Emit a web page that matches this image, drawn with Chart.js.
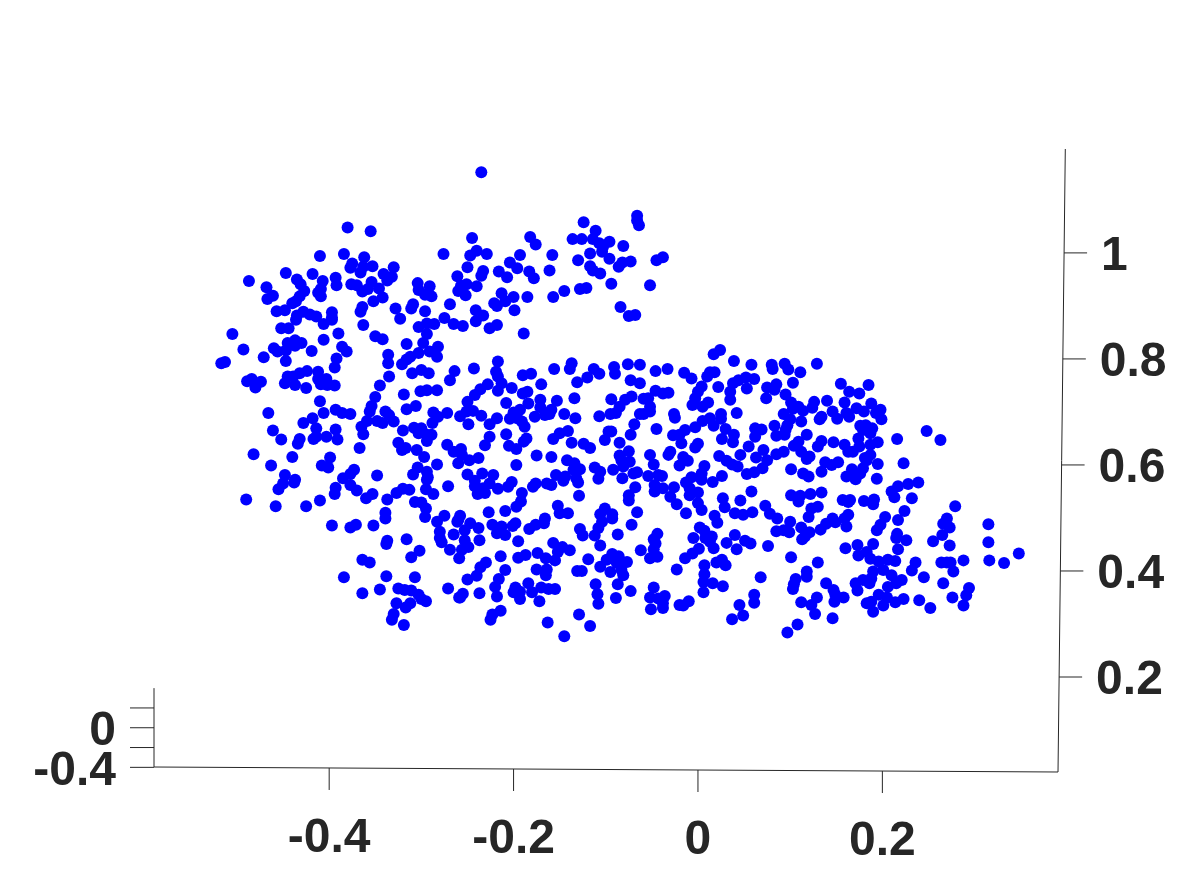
<!DOCTYPE html>
<html>
<head>
<meta charset="utf-8">
<style>
html, body { margin: 0; padding: 0; background: #fff; }
canvas { display: block; }
</style>
<script src="https://cdn.jsdelivr.net/npm/chart.js@4"></script>
</head>
<body>
<canvas id="myChart" width="1178" height="869"></canvas>
<script>
// tick labels
const xTicks = [-0.4, -0.2, 0, 0.2];
const yTicks = [0.2, 0.4, 0.6, 0.8, 1];
const zLabelled = [-0.4, 0];
const zMarks = [-0.4, -0.2, 0, 0.2];

// points, [x, y], region by region
const upperLeft = [
  [-0.380,1.048],[-0.355,1.041],[-0.410,0.994],[-0.384,0.998],[-0.362,0.992],[-0.375,0.980],[-0.377,0.972],[-0.363,0.974],[-0.353,0.975],[-0.366,0.963],
  [-0.330,0.973],[-0.341,0.960],[-0.332,0.955],[-0.337,0.948],[-0.487,0.947],[-0.447,0.962],[-0.418,0.960],[-0.435,0.950],[-0.468,0.935],[-0.407,0.947],
  [-0.393,0.953],[-0.392,0.939],[-0.431,0.941],[-0.427,0.928],[-0.409,0.932],[-0.412,0.925],[-0.409,0.918],[-0.376,0.941],[-0.370,0.939],[-0.354,0.945],
  [-0.358,0.932],[-0.364,0.927],[-0.346,0.933],[-0.342,0.916],[-0.352,0.909],[-0.304,0.943],[-0.291,0.937],[-0.303,0.930],[-0.296,0.921],[-0.289,0.918],
  [-0.461,0.919],[-0.467,0.913],[-0.432,0.918],[-0.436,0.909],[-0.440,0.905],[-0.457,0.890],[-0.448,0.892],[-0.364,0.898],[-0.366,0.889],[-0.328,0.895],
  [-0.309,0.903],[-0.311,0.895],[-0.296,0.890],[-0.397,0.888],[-0.428,0.889],[-0.435,0.882],[-0.421,0.884],[-0.414,0.880],[-0.397,0.878],[-0.323,0.876]
];
const upperMiddle = [
  [-0.235,1.152],[-0.066,1.070],[-0.066,1.061],[-0.064,1.052],[-0.124,1.058],[-0.111,1.042],[-0.136,1.026],[-0.126,1.026],[-0.114,1.026],[-0.096,1.021],
  [-0.107,1.018],[-0.103,1.011],[-0.104,1.002],[-0.081,1.013],[-0.245,1.028],[-0.182,1.030],[-0.176,1.016],[-0.276,0.998],[-0.240,1.004],[-0.247,0.995],
  [-0.229,0.998],[-0.193,0.996],[-0.158,0.996],[-0.117,0.999],[-0.130,0.986],[-0.096,0.989],[-0.038,0.992],[-0.045,0.986],[-0.073,0.984],[-0.082,0.982],
  [-0.086,0.974],[-0.204,0.982],[-0.196,0.971],[-0.250,0.973],[-0.233,0.966],[-0.216,0.965],[-0.183,0.965],[-0.161,0.967],[-0.117,0.975],[-0.114,0.967],
  [-0.106,0.961],[-0.235,0.957],[-0.261,0.956],[-0.207,0.954],[-0.178,0.952],[-0.251,0.941],[-0.257,0.938],[-0.240,0.937],[-0.094,0.942],[-0.052,0.939],
  [-0.121,0.934],[-0.128,0.932],[-0.145,0.928],[-0.260,0.928],[-0.252,0.920],[-0.213,0.924],[-0.200,0.917],[-0.185,0.917],[-0.157,0.917],[-0.221,0.905],
  [-0.209,0.909],[-0.218,0.900],[-0.269,0.903],[-0.084,0.898],[-0.241,0.892],[-0.199,0.892],[-0.075,0.881],[-0.068,0.883],[-0.233,0.882],[-0.275,0.877],
  [-0.241,0.871],[-0.286,0.866],[-0.265,0.866],[-0.255,0.862],[-0.218,0.864],[-0.226,0.858],[-0.189,0.848]
];
const midLeft = [
  [-0.436,0.874],[-0.406,0.866],[-0.397,0.874],[-0.363,0.864],[-0.452,0.858],[-0.444,0.858],[-0.505,0.847],[-0.390,0.848],[-0.350,0.843],[-0.342,0.837],
  [-0.406,0.836],[-0.437,0.835],[-0.445,0.830],[-0.430,0.830],[-0.437,0.825],[-0.316,0.828],[-0.303,0.860],[-0.294,0.847],[-0.294,0.867],[-0.493,0.818],
  [-0.460,0.820],[-0.456,0.814],[-0.447,0.816],[-0.419,0.815],[-0.386,0.823],[-0.381,0.814],[-0.298,0.830],[-0.303,0.811],[-0.312,0.804],[-0.291,0.814],
  [-0.282,0.823],[-0.283,0.804],[-0.336,0.808],[-0.336,0.792],[-0.471,0.803],[-0.447,0.796],[-0.392,0.801],[-0.394,0.784],[-0.321,0.790],[-0.316,0.799],
  [-0.513,0.794],[-0.517,0.792],[-0.424,0.777],[-0.412,0.776],[-0.432,0.773],[-0.439,0.767],[-0.445,0.767],[-0.310,0.773],[-0.300,0.779],[-0.292,0.773],
  [-0.335,0.767],[-0.484,0.762],[-0.489,0.758],[-0.474,0.757],[-0.480,0.746],[-0.448,0.754],[-0.437,0.751],[-0.412,0.762],[-0.403,0.762],[-0.409,0.752],
  [-0.402,0.751],[-0.394,0.750],[-0.345,0.750],[-0.425,0.745],[-0.319,0.733],[-0.301,0.739],[-0.294,0.741],[-0.283,0.741],[-0.350,0.728],[-0.410,0.720],
  [-0.354,0.711],[-0.356,0.701],[-0.306,0.711],[-0.316,0.705],[-0.393,0.704],[-0.386,0.698],[-0.377,0.696],[-0.466,0.698],[-0.406,0.698],[-0.339,0.701],
  [-0.335,0.694],[-0.287,0.699],[-0.418,0.688],[-0.428,0.679],[-0.359,0.683],[-0.348,0.683],[-0.342,0.679],[-0.330,0.682],[-0.282,0.691],[-0.288,0.679],
  [-0.365,0.672],[-0.461,0.665],[-0.414,0.669],[-0.393,0.667],[-0.320,0.665],[-0.308,0.670],[-0.300,0.669],[-0.303,0.660],[-0.294,0.657],[-0.289,0.657],
  [-0.363,0.658],[-0.414,0.653],[-0.403,0.653],[-0.417,0.649],[-0.391,0.648],[-0.452,0.648],[-0.432,0.649],[-0.434,0.640],[-0.294,0.645],[-0.325,0.642],
  [-0.367,0.632],[-0.317,0.632],[-0.321,0.628],[-0.305,0.628],[-0.482,0.620],[-0.297,0.615],[-0.440,0.615],[-0.399,0.614],[-0.463,0.599],[-0.408,0.599],
  [-0.401,0.595],[-0.283,0.601],[-0.304,0.595],[-0.373,0.591],[-0.294,0.587],[-0.309,0.582],[-0.448,0.581],[-0.377,0.583],[-0.385,0.575],[-0.348,0.580],
  [-0.293,0.577],[-0.437,0.572]
];
const lowerLeft = [
  [-0.377,0.562],[-0.294,0.572],[-0.438,0.567],[-0.450,0.565],[-0.455,0.554],[-0.393,0.557],[-0.394,0.545],[-0.370,0.552],[-0.353,0.545],[-0.360,0.537],
  [-0.327,0.547],[-0.320,0.555],[-0.313,0.553],[-0.295,0.554],[-0.287,0.545],[-0.271,0.560],[-0.337,0.535],[-0.490,0.535],[-0.410,0.533],[-0.458,0.522],
  [-0.425,0.522],[-0.307,0.530],[-0.300,0.529],[-0.295,0.518],[-0.339,0.510],[-0.339,0.499],[-0.296,0.502],[-0.275,0.504],[-0.283,0.493],[-0.260,0.496],
  [-0.397,0.486],[-0.377,0.482],[-0.371,0.487],[-0.352,0.486],[-0.280,0.474],[-0.265,0.469],[-0.280,0.462],[-0.278,0.454],[-0.337,0.457],[-0.338,0.451],
  [-0.316,0.460],[-0.269,0.440],[-0.302,0.438],[-0.311,0.426],[-0.259,0.424],[-0.364,0.421],[-0.356,0.416],[-0.384,0.388],[-0.338,0.390],[-0.307,0.388],
  [-0.345,0.365],[-0.364,0.358],[-0.271,0.367],[-0.325,0.367],[-0.318,0.364],[-0.311,0.363],[-0.303,0.355],[-0.295,0.343],[-0.300,0.347],[-0.259,0.350],
  [-0.327,0.339],[-0.312,0.339],[-0.317,0.331],[-0.330,0.319],[-0.332,0.308],[-0.319,0.298]
];
const midCentre = [
  [-0.217,0.795],[-0.137,0.792],[-0.139,0.781],[-0.156,0.781],[-0.243,0.782],[-0.264,0.777],[-0.269,0.760],[-0.219,0.776],[-0.217,0.767],[-0.190,0.769],
  [-0.181,0.772],[-0.113,0.781],[-0.107,0.772],[-0.120,0.765],[-0.091,0.785],[-0.090,0.772],[-0.076,0.790],[-0.063,0.789],[-0.046,0.777],[-0.073,0.760],
  [-0.063,0.754],[-0.131,0.756],[-0.170,0.752],[-0.213,0.754],[-0.202,0.745],[-0.228,0.752],[-0.236,0.743],[-0.217,0.740],[-0.242,0.732],[-0.190,0.735],
  [-0.185,0.738],[-0.184,0.716],[-0.171,0.723],[-0.153,0.721],[-0.134,0.726],[-0.046,0.740],[-0.072,0.729],[-0.079,0.723],[-0.094,0.724],[-0.059,0.725],
  [-0.054,0.726],[-0.052,0.710],[-0.250,0.719],[-0.208,0.717],[-0.085,0.710],[-0.059,0.696],[-0.063,0.696],[-0.052,0.701],[-0.244,0.702],[-0.251,0.701],
  [-0.272,0.698],[-0.258,0.692],[-0.235,0.693],[-0.193,0.704],[-0.200,0.699],[-0.204,0.687],[-0.196,0.688],[-0.171,0.709],[-0.177,0.691],[-0.166,0.694],
  [-0.159,0.704],[-0.161,0.696],[-0.145,0.696],[-0.133,0.688],[-0.107,0.692],[-0.095,0.696],[-0.089,0.698],[-0.249,0.677],[-0.218,0.688],[-0.226,0.677],
  [-0.191,0.682],[-0.188,0.672],[-0.069,0.677],[-0.045,0.668],[-0.097,0.663],[-0.094,0.663],[-0.141,0.664],[-0.150,0.660],[-0.157,0.649],[-0.101,0.647],
  [-0.073,0.657],[-0.208,0.658],[-0.226,0.653],[-0.186,0.650],[-0.189,0.644],[-0.231,0.637],[-0.137,0.642],[-0.124,0.640],[-0.117,0.632],[-0.205,0.636],
  [-0.197,0.630],[-0.085,0.642],[-0.272,0.638],[-0.265,0.625],[-0.257,0.630],[-0.256,0.619],[-0.248,0.609],[-0.238,0.613],[-0.260,0.603],[-0.075,0.626],
  [-0.085,0.618],[-0.083,0.609],[-0.074,0.606],[-0.052,0.619],[-0.048,0.601],[-0.175,0.618],[-0.159,0.615],[-0.142,0.609],[-0.134,0.603],[-0.197,0.600],
  [-0.112,0.595],[-0.106,0.587],[-0.092,0.591],[-0.081,0.597],[-0.128,0.592],[-0.135,0.591],[-0.070,0.584],[-0.066,0.586],[-0.082,0.575],[-0.054,0.579],
  [-0.043,0.581],[-0.250,0.582],[-0.234,0.584],[-0.222,0.581],[-0.242,0.570],[-0.154,0.581],[-0.144,0.578],[-0.132,0.575],[-0.146,0.570],[-0.108,0.574],
  [-0.202,0.568],[-0.206,0.559],[-0.164,0.565],[-0.159,0.562],[-0.176,0.565],[-0.179,0.559],[-0.130,0.567],[-0.226,0.565],[-0.217,0.555],[-0.233,0.556],
  [-0.242,0.560],[-0.239,0.545],[-0.231,0.547],[-0.191,0.547],[-0.129,0.542],[-0.068,0.558],[-0.075,0.543],[-0.047,0.562],[-0.047,0.550]
];
const lowerCentre = [
  [-0.075,0.533],[-0.030,0.540],[-0.023,0.526],[-0.192,0.531],[-0.197,0.521],[-0.152,0.523],[-0.150,0.509],[-0.141,0.509],[-0.227,0.511],[-0.209,0.513],
  [-0.101,0.518],[-0.106,0.507],[-0.093,0.507],[-0.093,0.499],[-0.066,0.511],[-0.258,0.504],[-0.261,0.493],[-0.247,0.490],[-0.238,0.481],[-0.253,0.477],
  [-0.223,0.487],[-0.213,0.484],[-0.198,0.490],[-0.201,0.485],[-0.218,0.471],[-0.209,0.468],[-0.166,0.499],[-0.167,0.490],[-0.176,0.487],[-0.183,0.479],
  [-0.104,0.493],[-0.108,0.481],[-0.112,0.467],[-0.128,0.479],[-0.125,0.467],[-0.087,0.469],[-0.072,0.487],[-0.044,0.470],[-0.048,0.460],[-0.237,0.458],
  [-0.253,0.458],[-0.195,0.456],[-0.157,0.453],[-0.106,0.448],[-0.046,0.452],[-0.249,0.445],[-0.256,0.440],[-0.147,0.445],[-0.139,0.439],[-0.152,0.436],
  [-0.062,0.439],[-0.048,0.441],[-0.174,0.434],[-0.187,0.430],[-0.195,0.425],[-0.165,0.424],[-0.155,0.420],[-0.214,0.428],[-0.119,0.422],[-0.093,0.432],
  [-0.086,0.428],[-0.099,0.421],[-0.077,0.417],[-0.052,0.424],[-0.044,0.427],[-0.230,0.416],[-0.236,0.407],[-0.106,0.408],[-0.088,0.415],[-0.209,0.402],
  [-0.175,0.403],[-0.164,0.403],[-0.131,0.400],[-0.126,0.400],[-0.095,0.398],[-0.083,0.402],[-0.023,0.403],[-0.240,0.391],[-0.165,0.392],[-0.081,0.392],
  [-0.250,0.384],[-0.216,0.385],[-0.184,0.377],[-0.087,0.375],[-0.111,0.375],[-0.220,0.370],[-0.198,0.369],[-0.170,0.369],[-0.162,0.366],[-0.155,0.366],
  [-0.048,0.369],[-0.193,0.361],[-0.200,0.360],[-0.180,0.360],[-0.237,0.358],[-0.255,0.357],[-0.258,0.350],[-0.218,0.352],[-0.109,0.356],[-0.073,0.362],
  [-0.193,0.347],[-0.172,0.343],[-0.089,0.349],[-0.052,0.350],[-0.036,0.353],[-0.043,0.348],[-0.038,0.339],[-0.108,0.338],[-0.038,0.330],[-0.051,0.328],
  [-0.020,0.336],[-0.214,0.325],[-0.223,0.318],[-0.225,0.308],[-0.129,0.318],[-0.163,0.303],[-0.117,0.296],[-0.145,0.277]
];
const midRight = [
  [0.024,0.817],[0.017,0.809],[0.039,0.796],[0.058,0.789],[0.080,0.789],[0.081,0.781],[0.094,0.791],[0.098,0.780],[0.111,0.775],[0.129,0.791],
  [-0.033,0.781],[-0.015,0.774],[-0.007,0.763],[0.018,0.775],[0.013,0.775],[0.010,0.767],[0.061,0.762],[0.052,0.765],[0.044,0.760],[0.038,0.754],
  [0.103,0.755],[0.022,0.747],[0.004,0.748],[0.000,0.738],[0.085,0.752],[0.075,0.746],[0.053,0.744],[0.035,0.738],[-0.038,0.735],[-0.032,0.736],
  [0.155,0.753],[0.185,0.751],[0.164,0.738],[0.175,0.735],[0.083,0.742],[0.074,0.726],[0.095,0.733],[0.035,0.723],[-0.003,0.726],[0.101,0.718],
  [0.140,0.721],[0.126,0.719],[0.011,0.718],[-0.006,0.713],[0.005,0.710],[0.159,0.718],[0.188,0.716],[0.109,0.710],[0.103,0.706],[0.124,0.708],
  [0.114,0.702],[0.172,0.707],[0.198,0.704],[0.146,0.701],[0.161,0.698],[0.180,0.701],[0.193,0.698],[-0.026,0.696],[-0.025,0.689],[0.042,0.698],
  [0.025,0.696],[0.093,0.696],[0.134,0.691],[0.132,0.686],[0.151,0.687],[0.164,0.691],[0.199,0.686],[0.025,0.687],[0.013,0.688],[0.005,0.683],
  [0.100,0.686],[0.112,0.682],[0.017,0.674],[-0.003,0.671],[-0.014,0.666],[0.083,0.674],[0.097,0.675],[0.176,0.674],[0.182,0.675],[0.189,0.669],
  [0.030,0.668],[0.069,0.667],[0.062,0.669],[0.095,0.666],[0.179,0.666],[0.187,0.660],[-0.027,0.656],[-0.020,0.657],[0.039,0.657],[0.062,0.653],
  [0.085,0.655],[0.094,0.657],[0.118,0.657],[0.248,0.664],[-0.018,0.641],[0.026,0.649],[0.038,0.643],[0.216,0.649],[0.174,0.650],[0.134,0.645],
  [0.147,0.643],[0.109,0.644],[0.104,0.636],[0.055,0.635],[0.000,0.640],[-0.003,0.633],[0.195,0.643],[0.187,0.638],[0.159,0.638],[0.175,0.635],
  [0.130,0.635],[0.163,0.625],[0.168,0.625],[0.071,0.628],[0.112,0.625],[0.093,0.625],[0.085,0.620],[0.063,0.614],[0.046,0.619],[0.023,0.617],
  [-0.030,0.625],[-0.032,0.619],[0.187,0.619],[0.181,0.613],[0.121,0.616],[0.118,0.611],[-0.016,0.615],[-0.011,0.608],[-0.020,0.599],[0.031,0.608],
  [0.075,0.609],[0.070,0.594],[0.037,0.601],[0.152,0.605],[0.138,0.605],[0.145,0.600],[0.183,0.609],[0.223,0.603],[0.007,0.598],[0.043,0.597],
  [0.195,0.602],[0.179,0.594],[0.167,0.592],[0.134,0.587],[0.053,0.583],[0.061,0.586],[0.101,0.592],[0.114,0.584],[0.004,0.584],[-0.039,0.579],
  [-0.007,0.577],[0.026,0.579],[0.194,0.574],[0.176,0.584],[0.161,0.578],[0.171,0.573],[0.120,0.578],[0.004,0.572],[0.016,0.568],[-0.013,0.567],
  [-0.026,0.558],[-0.038,0.556],[-0.009,0.556],[0.000,0.548],[0.058,0.550],[0.027,0.537],[0.046,0.533],[0.101,0.543],[0.111,0.542],[0.122,0.545],
  [0.134,0.548],[0.157,0.534],[0.165,0.534],[0.191,0.535],[0.239,0.567],[0.228,0.564],[0.217,0.560],[0.210,0.550],[0.232,0.537],[0.213,0.539],
  [-0.009,0.543]
];
const lowerRight = [
  [-0.013,0.509],[0.000,0.528],[0.004,0.515],[0.029,0.520],[0.018,0.504],[0.021,0.491],[0.040,0.509],[0.049,0.506],[0.059,0.511],[0.073,0.523],
  [0.078,0.508],[0.086,0.499],[0.109,0.531],[0.163,0.530],[0.180,0.532],[0.190,0.526],[0.130,0.521],[0.123,0.518],[0.120,0.502],[0.163,0.506],
  [0.159,0.499],[0.161,0.484],[0.146,0.499],[0.149,0.492],[0.139,0.489],[0.133,0.478],[0.203,0.502],[0.198,0.487],[0.194,0.477],[0.217,0.496],
  [0.002,0.482],[0.007,0.476],[-0.005,0.462],[0.015,0.465],[0.008,0.462],[0.013,0.455],[0.017,0.443],[0.001,0.442],[-0.006,0.433],[-0.014,0.424],
  [0.040,0.468],[0.031,0.453],[0.051,0.457],[0.057,0.452],[0.042,0.441],[0.076,0.447],[0.100,0.493],[0.112,0.482],[0.085,0.475],[0.093,0.477],
  [0.099,0.473],[0.121,0.473],[0.116,0.465],[0.113,0.460],[0.215,0.462],[0.190,0.451],[0.173,0.449],[0.174,0.429],[0.160,0.443],[0.183,0.436],
  [0.187,0.423],[0.217,0.441],[0.196,0.418],[0.206,0.421],[0.214,0.419],[0.101,0.426],[0.130,0.416],[0.007,0.411],[0.026,0.421],[0.020,0.416],
  [0.030,0.411],[0.007,0.394],[0.006,0.379],[0.016,0.377],[0.027,0.371],[0.068,0.388],[0.118,0.399],[0.118,0.389],[0.106,0.385],[0.104,0.375],
  [0.103,0.366],[0.006,0.360],[0.139,0.377],[0.147,0.364],[0.149,0.355],[0.158,0.350],[0.148,0.342],[0.129,0.350],[0.123,0.336],[0.112,0.341],
  [0.127,0.319],[0.146,0.311],[0.108,0.299],[0.097,0.284],[0.061,0.355],[0.061,0.340],[0.045,0.336],[0.049,0.316],[0.037,0.309],[-0.010,0.343],
  [-0.016,0.335],[0.201,0.402],[0.190,0.399],[0.210,0.392],[0.188,0.386],[0.179,0.383],[0.171,0.377],[0.186,0.377],[0.173,0.363],[0.206,0.370],
  [0.215,0.377],[0.183,0.339],[0.196,0.355],[0.205,0.350],[0.188,0.342],[0.201,0.335],[0.190,0.323],[0.214,0.341]
];
const rightEdge = [
  [0.263,0.647],[0.279,0.522],[0.224,0.513],[0.270,0.499],[0.266,0.489],[0.273,0.482],[0.315,0.488],[0.265,0.468],[0.216,0.470],[0.226,0.458],
  [0.255,0.456],[0.273,0.448],[0.315,0.454],[0.348,0.433],[0.316,0.420],[0.332,0.415],[0.288,0.420],[0.264,0.416],[0.270,0.416],[0.274,0.416],
  [0.277,0.399],[0.236,0.416],[0.232,0.401],[0.245,0.388],[0.266,0.377],[0.221,0.383],[0.294,0.368],[0.291,0.354],[0.276,0.350],[0.288,0.335],
  [0.240,0.345],[0.252,0.330],[0.223,0.347]
];

const allPoints = [].concat(upperLeft, upperMiddle, midLeft, lowerLeft, midCentre, lowerCentre, midRight, lowerRight, rightEdge);

const ink = "#262626";
const labelFont = { family: "'Liberation Sans', Arial, sans-serif", size: 48, weight: "bold" };

// the 3D box is slightly tilted, so the axes lean a few pixels
const xAxisDrop = 5;
const yAxisLean = 7.3;

function tickText(v) {
  return String(Math.round(v * 10) / 10);
}

function setTicks(list) {
  return (scale) => {
    scale.ticks = list.map((v) => ({ value: v }));
  };
}

const tiltedAxes = {
  id: "tiltedAxes",
  afterLayout(chart) {
    const { x, y, z } = chart.scales;
    const a = chart.chartArea;
    x.getLabelItems().forEach((item, i) => {
      const px = x.getPixelForValue(xTicks[i]);
      item.options.translation[1] += ((px - a.right) / (a.right - a.left)) * xAxisDrop;
    });
    y.getLabelItems().forEach((item, i) => {
      const py = y.getPixelForValue(yTicks[i]);
      item.options.translation[0] += ((a.bottom - py) / (a.bottom - a.top)) * yAxisLean;
      item.options.translation[1] += 4;
    });
    z.getLabelItems().forEach((item) => {
      item.options.translation[1] += 4;
    });
  },
  beforeDatasetsDraw(chart) {
    const { ctx, chartArea: a, scales } = chart;
    const { x, y, z } = scales;
    const line = (x1, y1, x2, y2) => {
      ctx.beginPath();
      ctx.moveTo(x1, y1);
      ctx.lineTo(x2, y2);
      ctx.stroke();
    };
    const yAxisX = (py) => a.right + ((a.bottom - py) / (a.bottom - a.top)) * yAxisLean;
    const xAxisY = (px) => a.bottom + ((px - a.right) / (a.right - a.left)) * xAxisDrop;
    ctx.save();
    ctx.strokeStyle = ink;
    ctx.lineWidth = 1;
    line(a.left, a.bottom - xAxisDrop, a.right, a.bottom);
    line(a.right, a.bottom, a.right + yAxisLean, a.top);
    line(a.left, z.getPixelForValue(0.4), a.left, a.bottom - xAxisDrop);
    xTicks.forEach((v) => {
      const px = x.getPixelForValue(v);
      line(px, xAxisY(px), px, xAxisY(px) + 22);
    });
    yTicks.forEach((v) => {
      const py = y.getPixelForValue(v);
      line(yAxisX(py), py, yAxisX(py) + 23, py);
    });
    zMarks.forEach((v) => {
      const py = z.getPixelForValue(v);
      line(a.left - 24, py, a.left, py);
    });
    ctx.restore();
  },
};

new Chart(document.getElementById("myChart"), {
  type: "scatter",
  data: {
    datasets: [
      {
        data: allPoints.map((p) => ({ x: p[0], y: p[1] })),
        backgroundColor: "#0000ff",
        borderWidth: 0,
        pointRadius: 6,
      },
    ],
  },
  plugins: [tiltedAxes],
  options: {
    responsive: false,
    animation: false,
    layout: { padding: { top: 149, left: 0, right: 0, bottom: 0 } },
    plugins: {
      legend: { display: false },
      title: { display: false },
      tooltip: { enabled: false },
    },
    scales: {
      x: {
        type: "linear",
        position: "bottom",
        min: -0.59,
        max: 0.3905,
        afterBuildTicks: setTicks(xTicks),
        afterFit: (s) => { s.height = 97; },
        grid: { display: false, drawTicks: false },
        border: { display: false },
        ticks: {
          autoSkip: false,
          maxRotation: 0,
          minRotation: 0,
          padding: 42,
          color: ink,
          font: labelFont,
          callback: tickText,
        },
      },
      y: {
        type: "linear",
        position: "right",
        min: 0.0208,
        max: 1.196,
        afterBuildTicks: setTicks(yTicks),
        afterFit: (s) => { s.width = 120; },
        grid: { display: false, drawTicks: false },
        border: { display: false },
        ticks: {
          autoSkip: false,
          padding: 37,
          color: ink,
          font: labelFont,
          callback: tickText,
        },
      },
      z: {
        type: "linear",
        position: "left",
        min: -0.447,
        max: 5.845,
        afterBuildTicks: setTicks(zLabelled),
        afterFit: (s) => { s.width = 154; },
        grid: { display: false, drawTicks: false },
        border: { display: false },
        ticks: {
          autoSkip: false,
          padding: 38,
          color: ink,
          font: labelFont,
          callback: tickText,
        },
      },
    },
  },
});
</script>
</body>
</html>
